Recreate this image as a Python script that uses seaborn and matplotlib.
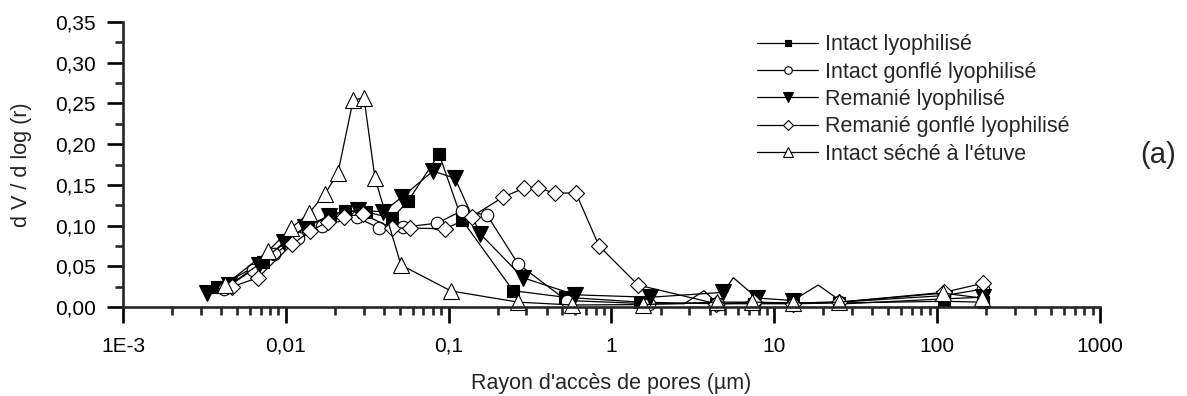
import numpy as np
import pandas as pd
import seaborn as sns
import matplotlib.pyplot as plt
from matplotlib.lines import Line2D
from matplotlib.ticker import FixedLocator, LogLocator, NullFormatter

# data (pore radius in µm, dV/dlog r)
x_intact = [0.0038, 0.0072, 0.0102, 0.0137, 0.0187, 0.0231, 0.031, 0.0449, 0.0563, 0.0873,
            0.1208, 0.249, 0.519, 1.5, 4.4, 7.5, 13, 25, 110, 190]
y_intact = [0.024, 0.055, 0.082, 0.099, 0.113, 0.118, 0.117, 0.109, 0.130, 0.188,
            0.107, 0.020, 0.012, 0.006, 0.004, 0.004, 0.004, 0.005, 0.007, 0.006]

x_intact_gonfle = [0.0042, 0.0063, 0.0085, 0.0118, 0.0166, 0.0273, 0.0374, 0.0525, 0.085, 0.12,
                   0.172, 0.267, 0.53, 1.7, 2.8, 3.7, 4.5, 7.5, 13, 25, 110, 190]
y_intact_gonfle = [0.022, 0.046, 0.065, 0.085, 0.100, 0.110, 0.097, 0.098, 0.103, 0.118,
                   0.113, 0.053, 0.008, 0.004, 0.004, 0.020, 0.004, 0.005, 0.005, 0.006, 0.014, 0.022]
m_intact_gonfle = [0, 1, 2, 3, 4, 5, 6, 7, 8, 9, 10, 11, 12, 13, 16, 17, 18, 19, 20, 21]

x_remanie = [0.00328, 0.0045, 0.0068, 0.0098, 0.0131, 0.0185, 0.0277, 0.0395, 0.0517, 0.0802,
             0.1094, 0.156, 0.286, 0.597, 1.73, 4.85, 5.6, 7.84, 13, 18.6, 27, 110, 190]
y_remanie = [0.017, 0.027, 0.052, 0.080, 0.098, 0.112, 0.119, 0.117, 0.135, 0.167,
             0.158, 0.090, 0.036, 0.015, 0.012, 0.018, 0.036, 0.011, 0.008, 0.027, 0.004, 0.010, 0.012]
m_remanie = [0, 1, 2, 3, 4, 5, 6, 7, 8, 9, 10, 11, 12, 13, 14, 15, 17, 18, 21, 22]

x_remanie_gonfle = [0.0047, 0.00675, 0.0109, 0.0141, 0.0182, 0.0228, 0.0298, 0.0449, 0.058, 0.095,
                    0.139, 0.216, 0.29, 0.354, 0.45, 0.605, 0.839, 1.456, 4.4, 7.5, 13, 25, 110, 190]
y_remanie_gonfle = [0.025, 0.036, 0.077, 0.093, 0.105, 0.111, 0.114, 0.097, 0.097, 0.096,
                    0.111, 0.135, 0.146, 0.146, 0.140, 0.140, 0.075, 0.027, 0.004, 0.006, 0.004, 0.006, 0.018, 0.029]

x_etuve = [0.00423, 0.0078, 0.0108, 0.0139, 0.0174, 0.0209, 0.0259, 0.0302, 0.0353, 0.051,
           0.1034, 0.267, 0.572, 1.56, 4.45, 7.3, 13, 25, 109, 189]
y_etuve = [0.027, 0.069, 0.097, 0.1155, 0.139, 0.1646, 0.254, 0.257, 0.158, 0.0516,
           0.0197, 0.006, 0.0025, 0.003, 0.006, 0.006, 0.005, 0.006, 0.017, 0.011]

labels = ["Intact lyophilisé", "Intact gonflé lyophilisé", "Remanié lyophilisé",
          "Remanié gonflé lyophilisé", "Intact séché à l'étuve"]
xtick_vals = [0.001, 0.01, 0.1, 1, 10, 100, 1000]
xtick_labels = ["1E-3", "0,01", "0,1", "1", "10", "100", "1000"]
ytick_vals = [0, 0.05, 0.10, 0.15, 0.20, 0.25, 0.30, 0.35]
ytick_labels = ["0,00", "0,05", "0,10", "0,15", "0,20", "0,25", "0,30", "0,35"]

sns.set_style("ticks")
plt.rcParams['font.family'] = ['Liberation Sans', 'DejaVu Sans']

fig = plt.figure(figsize=(11.87, 3.96), dpi=100)
ax = fig.add_axes([0.1036, 0.2247, 0.8231, 0.7197])

series = [
    (x_intact, y_intact, None, 's', 'black', 8),
    (x_intact_gonfle, y_intact_gonfle, m_intact_gonfle, 'o', 'white', 9),
    (x_remanie, y_remanie, m_remanie, 'v', 'black', 11.5),
    (x_remanie_gonfle, y_remanie_gonfle, None, 'D', 'white', 8.5),
    (x_etuve, y_etuve, None, '^', 'white', 11.5),
]

for (xs, ys, mk, marker, fc, ms), lab in zip(series, labels):
    df = pd.DataFrame({"r": xs, "v": ys})
    sns.lineplot(data=df, x="r", y="v", ax=ax, color="black", lw=0.9,
                 marker=marker, markersize=ms, markerfacecolor=fc,
                 markeredgecolor="black", markeredgewidth=0.8,
                 markevery=mk,
                 estimator=None, errorbar=None, sort=False, legend=False, clip_on=False)

ax.set_xscale("log")
ax.set_xlim(0.001, 1000)
ax.set_ylim(0, 0.35)
ax.xaxis.set_major_locator(FixedLocator(xtick_vals))
ax.set_xticklabels(xtick_labels)
ax.xaxis.set_minor_locator(LogLocator(base=10, subs=np.arange(2, 10), numticks=20))
ax.xaxis.set_minor_formatter(NullFormatter())
ax.set_yticks(ytick_vals)
ax.set_yticklabels(ytick_labels)
ax.yaxis.set_minor_locator(FixedLocator(np.arange(0.025, 0.35, 0.05)))

for side in ["top", "right"]:
    ax.spines[side].set_visible(False)
for side in ["left", "bottom"]:
    ax.spines[side].set_linewidth(1.9)
ax.tick_params(which="major", direction="out", length=11.5, width=1.9, labelsize=15, colors="black")
ax.tick_params(which="minor", direction="out", length=6, width=1.9)
ax.tick_params(axis="x", which="major", pad=10)
ax.tick_params(axis="y", which="major", pad=8)

ax.set_xlabel("Rayon d'accès de pores (µm)", fontsize=15.5, va="center")
ax.set_ylabel("d V / d log (r)", fontsize=15.5, va="center")
ax.xaxis.set_label_coords(0.5, -0.267)
ax.yaxis.set_label_coords(-0.1034, 0.5)

handles = []
for (xs, ys, mk, marker, fc, ms), lab in zip(series, labels):
    handles.append(Line2D([], [], color="black", lw=0.9, marker=marker,
                          markersize=ms * 0.6, markerfacecolor=fc,
                          markeredgecolor="black", markeredgewidth=0.8, label=lab))
fig.legend(handles=handles, loc="upper left", bbox_to_anchor=(0.6377, 0.914),
           frameon=False, fontsize=15.5, handlelength=2.84, handletextpad=0.33,
           labelspacing=0.3, borderpad=0, borderaxespad=0)

fig.text(0.9756, 0.6086, "(a)", fontsize=21, ha="center", va="center")

fig.savefig("out.png", dpi=100)
